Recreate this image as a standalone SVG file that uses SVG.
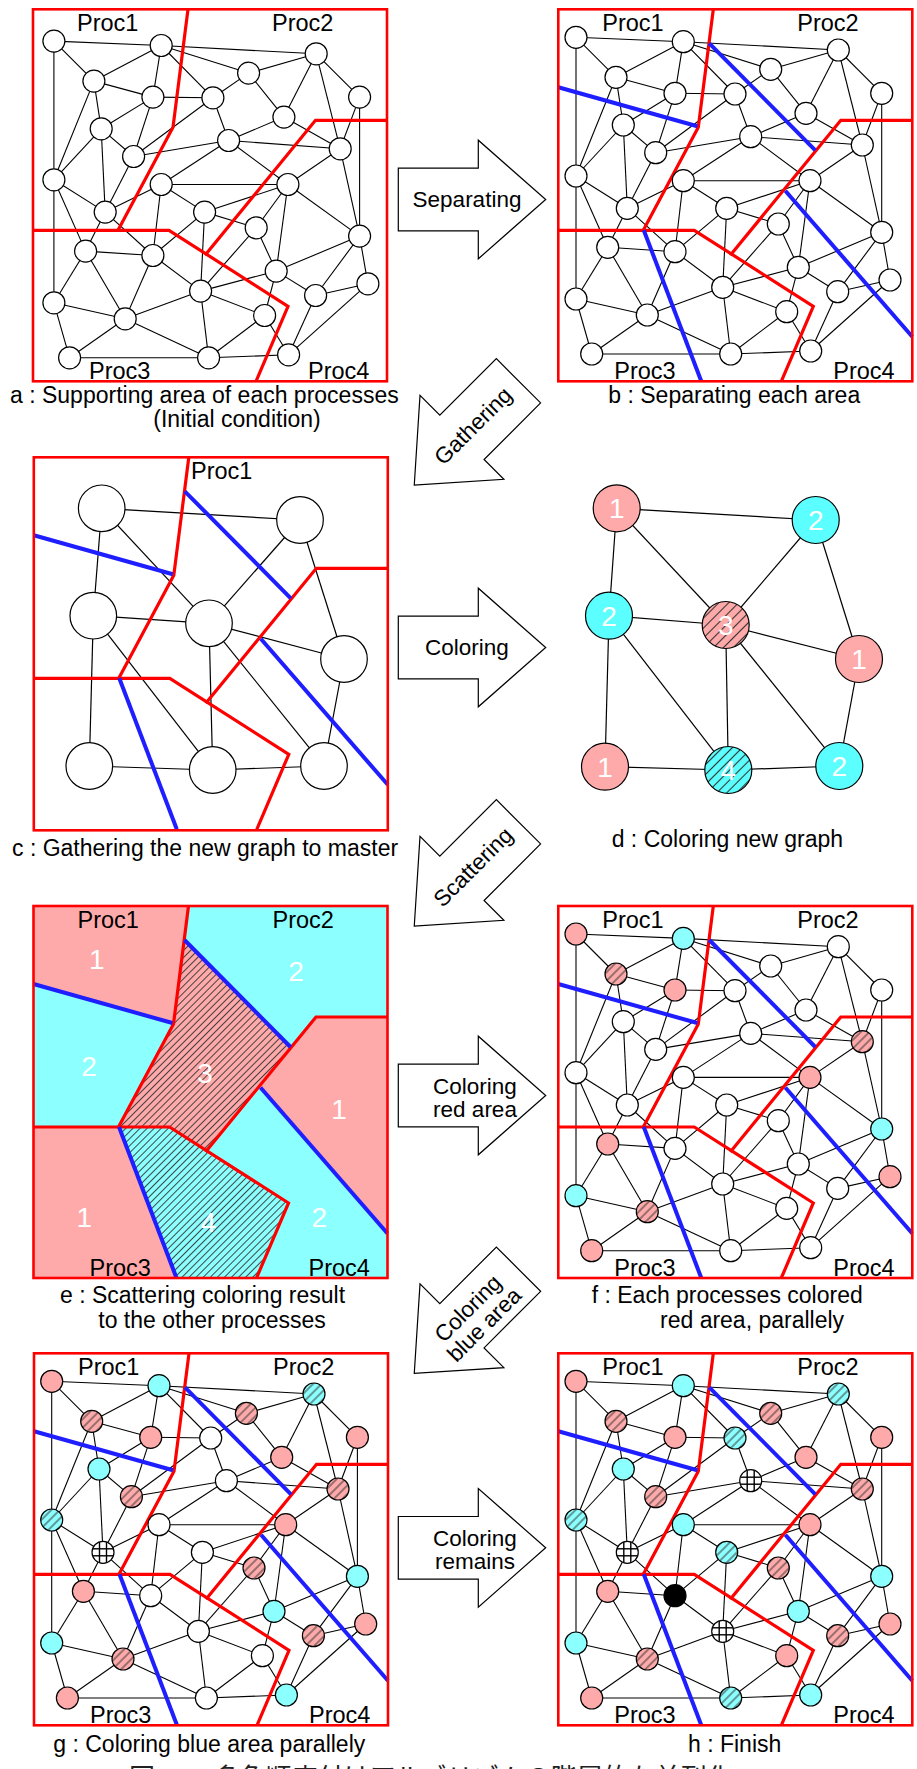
<svg xmlns="http://www.w3.org/2000/svg" xmlns:xlink="http://www.w3.org/1999/xlink" width="917" height="1769" viewBox="0 0 917 1769">
<style>
.fr{fill:none;stroke:#f00;stroke-width:2.6}
.rl{fill:none;stroke:#f00;stroke-width:3.2;stroke-linejoin:miter}
.bl{fill:none;stroke:#1e1eff;stroke-width:4}
circle{stroke:#000;stroke-width:1.2}
.w{fill:#fff}.p{fill:#ffaaaa}.c{fill:#8cffff}.hp{fill:url(#hp)}.hc{fill:url(#hc)}.k{fill:#000}
.dp{fill:#ffaaaa}.dc{fill:#5cffff}.dhp{fill:url(#dhp)}.dhc{fill:url(#dhc)}
text{font-family:"Liberation Sans",Arial,sans-serif;fill:#000}
.lb{font-size:23.5px}
.cap{font-size:23px}
.num{font-size:28px;fill:#fff;text-anchor:middle}
.arr{fill:#fff;stroke:#000;stroke-width:1.2}
.at{font-size:22.5px;text-anchor:middle}
</style>
<defs>
<pattern id="hp" patternUnits="userSpaceOnUse" width="6" height="6" patternTransform="rotate(45)"><rect width="6" height="6" fill="#ffaaaa"/><line x1="3" y1="0" x2="3" y2="6" stroke="#333" stroke-width="1"/></pattern>
<pattern id="hc" patternUnits="userSpaceOnUse" width="6" height="6" patternTransform="rotate(45)"><rect width="6" height="6" fill="#8cffff"/><line x1="3" y1="0" x2="3" y2="6" stroke="#333" stroke-width="1"/></pattern>
<pattern id="dhp" patternUnits="userSpaceOnUse" width="7" height="7" patternTransform="rotate(45)"><rect width="7" height="7" fill="#ffaaaa"/><line x1="3.5" y1="0" x2="3.5" y2="7" stroke="#333" stroke-width="1.1"/></pattern>
<pattern id="dhc" patternUnits="userSpaceOnUse" width="7" height="7" patternTransform="rotate(45)"><rect width="7" height="7" fill="#5cffff"/><line x1="3.5" y1="0" x2="3.5" y2="7" stroke="#333" stroke-width="1.1"/></pattern>
<pattern id="ehp" patternUnits="userSpaceOnUse" width="5" height="5" patternTransform="rotate(45)"><rect width="5" height="5" fill="#ffaaaa"/><line x1="2.5" y1="0" x2="2.5" y2="5" stroke="#333" stroke-width="0.9"/></pattern>
<pattern id="ehc" patternUnits="userSpaceOnUse" width="5" height="5" patternTransform="rotate(45)"><rect width="5" height="5" fill="#8cffff"/><line x1="2.5" y1="0" x2="2.5" y2="5" stroke="#333" stroke-width="0.9"/></pattern>
<path id="ar" d="M0,-31.3H80V-59.3L147.4,0L80,59.3V31.3H0Z"/>
<g id="gm" stroke="#000" stroke-width="1.4">
<line x1="-3.5" y1="-10.2" x2="-3.5" y2="10.2"/><line x1="3.5" y1="-10.2" x2="3.5" y2="10.2"/>
<line x1="-10.2" y1="-3.5" x2="10.2" y2="-3.5"/><line x1="-10.2" y1="3.5" x2="10.2" y2="3.5"/>
</g>
<g id="E" stroke="#000" stroke-width="1.1">
<line x1="17.7" y1="28" x2="125" y2="32.4"/>
<line x1="17.7" y1="28" x2="57.7" y2="68"/>
<line x1="17.7" y1="28" x2="17.7" y2="166.7"/>
<line x1="125" y1="32.4" x2="280" y2="40.7"/>
<line x1="125" y1="32.4" x2="57.7" y2="68"/>
<line x1="125" y1="32.4" x2="212.4" y2="60"/>
<line x1="125" y1="32.4" x2="116.7" y2="84"/>
<line x1="125" y1="32.4" x2="176.7" y2="84.7"/>
<line x1="280" y1="40.7" x2="212.4" y2="60"/>
<line x1="280" y1="40.7" x2="323.4" y2="84"/>
<line x1="280" y1="40.7" x2="247.7" y2="104"/>
<line x1="280" y1="40.7" x2="304" y2="135.7"/>
<line x1="57.7" y1="68" x2="116.7" y2="84"/>
<line x1="57.7" y1="68" x2="65" y2="115.7"/>
<line x1="57.7" y1="68" x2="17.7" y2="166.7"/>
<line x1="212.4" y1="60" x2="176.7" y2="84.7"/>
<line x1="212.4" y1="60" x2="247.7" y2="104"/>
<line x1="116.7" y1="84" x2="176.7" y2="84.7"/>
<line x1="116.7" y1="84" x2="65" y2="115.7"/>
<line x1="116.7" y1="84" x2="97.4" y2="143.4"/>
<line x1="176.7" y1="84.7" x2="192.4" y2="127.4"/>
<line x1="176.7" y1="84.7" x2="97.4" y2="143.4"/>
<line x1="323.4" y1="84" x2="304" y2="135.7"/>
<line x1="323.4" y1="84" x2="323.4" y2="223"/>
<line x1="65" y1="115.7" x2="97.4" y2="143.4"/>
<line x1="65" y1="115.7" x2="17.7" y2="166.7"/>
<line x1="65" y1="115.7" x2="69" y2="199"/>
<line x1="247.7" y1="104" x2="192.4" y2="127.4"/>
<line x1="247.7" y1="104" x2="304" y2="135.7"/>
<line x1="192.4" y1="127.4" x2="304" y2="135.7"/>
<line x1="192.4" y1="127.4" x2="97.4" y2="143.4"/>
<line x1="192.4" y1="127.4" x2="125" y2="171.4"/>
<line x1="192.4" y1="127.4" x2="251.7" y2="171.4"/>
<line x1="304" y1="135.7" x2="251.7" y2="171.4"/>
<line x1="304" y1="135.7" x2="323.4" y2="223"/>
<line x1="97.4" y1="143.4" x2="69" y2="199"/>
<line x1="17.7" y1="166.7" x2="69" y2="199"/>
<line x1="17.7" y1="166.7" x2="49.4" y2="238"/>
<line x1="17.7" y1="166.7" x2="17.7" y2="289.7"/>
<line x1="125" y1="171.4" x2="251.7" y2="171.4"/>
<line x1="125" y1="171.4" x2="69" y2="199"/>
<line x1="125" y1="171.4" x2="168.4" y2="199"/>
<line x1="125" y1="171.4" x2="116.7" y2="242.4"/>
<line x1="251.7" y1="171.4" x2="168.4" y2="199"/>
<line x1="251.7" y1="171.4" x2="220" y2="214.7"/>
<line x1="251.7" y1="171.4" x2="323.4" y2="223"/>
<line x1="251.7" y1="171.4" x2="240" y2="258"/>
<line x1="69" y1="199" x2="49.4" y2="238"/>
<line x1="69" y1="199" x2="116.7" y2="242.4"/>
<line x1="168.4" y1="199" x2="220" y2="214.7"/>
<line x1="168.4" y1="199" x2="116.7" y2="242.4"/>
<line x1="168.4" y1="199" x2="164.4" y2="278"/>
<line x1="220" y1="214.7" x2="240" y2="258"/>
<line x1="220" y1="214.7" x2="164.4" y2="278"/>
<line x1="323.4" y1="223" x2="240" y2="258"/>
<line x1="323.4" y1="223" x2="331.7" y2="270.7"/>
<line x1="323.4" y1="223" x2="279.4" y2="282.4"/>
<line x1="49.4" y1="238" x2="116.7" y2="242.4"/>
<line x1="49.4" y1="238" x2="17.7" y2="289.7"/>
<line x1="49.4" y1="238" x2="89" y2="305.7"/>
<line x1="116.7" y1="242.4" x2="164.4" y2="278"/>
<line x1="116.7" y1="242.4" x2="89" y2="305.7"/>
<line x1="240" y1="258" x2="164.4" y2="278"/>
<line x1="240" y1="258" x2="279.4" y2="282.4"/>
<line x1="240" y1="258" x2="228.4" y2="302.4"/>
<line x1="164.4" y1="278" x2="89" y2="305.7"/>
<line x1="164.4" y1="278" x2="228.4" y2="302.4"/>
<line x1="164.4" y1="278" x2="172.4" y2="344.7"/>
<line x1="331.7" y1="270.7" x2="279.4" y2="282.4"/>
<line x1="331.7" y1="270.7" x2="252.4" y2="341.7"/>
<line x1="279.4" y1="282.4" x2="252.4" y2="341.7"/>
<line x1="17.7" y1="289.7" x2="89" y2="305.7"/>
<line x1="17.7" y1="289.7" x2="33.4" y2="344.7"/>
<line x1="89" y1="305.7" x2="33.4" y2="344.7"/>
<line x1="89" y1="305.7" x2="172.4" y2="344.7"/>
<line x1="228.4" y1="302.4" x2="172.4" y2="344.7"/>
<line x1="228.4" y1="302.4" x2="252.4" y2="341.7"/>
<line x1="33.4" y1="344.7" x2="172.4" y2="344.7"/>
<line x1="172.4" y1="344.7" x2="252.4" y2="341.7"/>
</g>
<g id="RL">
<polyline class="rl" points="155,0 140,118 85,221"/>
<polyline class="rl" points="0,221 136,221 255,297 223,372"/>
<polyline class="rl" points="354,111 282.5,111 172,246"/>
</g>
<g id="BL">
<line class="bl" x1="0" y1="78" x2="139" y2="117"/>
<line class="bl" x1="151" y1="34" x2="257" y2="141"/>
<line class="bl" x1="227" y1="181.5" x2="354" y2="327.5"/>
<line class="bl" x1="85.5" y1="221" x2="143" y2="372"/>
</g>
<g id="LB">
<text x="44" y="21.5" class="lb">Proc1</text>
<text x="239" y="21.5" class="lb">Proc2</text>
<text x="56" y="370" class="lb">Proc3</text>
<text x="275" y="370" class="lb">Proc4</text>
</g>
</defs>
<rect width="917" height="1769" fill="#fff"/>

<!-- Panel a -->
<g id="panel-a" transform="translate(33,9.3)">
<g id="a-connectors" transform="translate(3.2,3.8)"><use href="#E"/></g>
<use href="#RL"/>
<g id="a-nodes" transform="translate(3.2,3.8)">
<g id="a1"><circle cx="17.7" cy="28" r="11" class="w"/></g>
<g id="a2"><circle cx="125" cy="32.4" r="11" class="w"/></g>
<g id="a3"><circle cx="280" cy="40.7" r="11" class="w"/></g>
<g id="a4"><circle cx="57.7" cy="68" r="11" class="w"/></g>
<g id="a5"><circle cx="212.4" cy="60" r="11" class="w"/></g>
<g id="a6"><circle cx="116.7" cy="84" r="11" class="w"/></g>
<g id="a7"><circle cx="176.7" cy="84.7" r="11" class="w"/></g>
<g id="a8"><circle cx="323.4" cy="84" r="11" class="w"/></g>
<g id="a9"><circle cx="65" cy="115.7" r="11" class="w"/></g>
<g id="a10"><circle cx="247.7" cy="104" r="11" class="w"/></g>
<g id="a11"><circle cx="192.4" cy="127.4" r="11" class="w"/></g>
<g id="a12"><circle cx="304" cy="135.7" r="11" class="w"/></g>
<g id="a13"><circle cx="97.4" cy="143.4" r="11" class="w"/></g>
<g id="a14"><circle cx="17.7" cy="166.7" r="11" class="w"/></g>
<g id="a15"><circle cx="125" cy="171.4" r="11" class="w"/></g>
<g id="a16"><circle cx="251.7" cy="171.4" r="11" class="w"/></g>
<g id="a17"><circle cx="69" cy="199" r="11" class="w"/></g>
<g id="a18"><circle cx="168.4" cy="199" r="11" class="w"/></g>
<g id="a19"><circle cx="220" cy="214.7" r="11" class="w"/></g>
<g id="a20"><circle cx="323.4" cy="223" r="11" class="w"/></g>
<g id="a21"><circle cx="49.4" cy="238" r="11" class="w"/></g>
<g id="a22"><circle cx="116.7" cy="242.4" r="11" class="w"/></g>
<g id="a23"><circle cx="240" cy="258" r="11" class="w"/></g>
<g id="a24"><circle cx="164.4" cy="278" r="11" class="w"/></g>
<g id="a25"><circle cx="331.7" cy="270.7" r="11" class="w"/></g>
<g id="a26"><circle cx="279.4" cy="282.4" r="11" class="w"/></g>
<g id="a27"><circle cx="17.7" cy="289.7" r="11" class="w"/></g>
<g id="a28"><circle cx="89" cy="305.7" r="11" class="w"/></g>
<g id="a29"><circle cx="228.4" cy="302.4" r="11" class="w"/></g>
<g id="a30"><circle cx="33.4" cy="344.7" r="11" class="w"/></g>
<g id="a31"><circle cx="172.4" cy="344.7" r="11" class="w"/></g>
<g id="a32"><circle cx="252.4" cy="341.7" r="11" class="w"/></g>
</g>
<rect class="fr" width="354" height="372"/>
<use href="#LB"/>
</g>
<text class="cap" x="10" y="403.3">a : Supporting area of each processes</text>
<text class="cap" x="153.3" y="426.7">(Initial condition)</text>

<!-- Panel b -->
<g id="panel-b" transform="translate(558.3,9.3)">
<g id="b-connectors"><use href="#E"/></g>
<use href="#RL"/><use href="#BL"/>
<g id="b-nodes">
<g id="b1"><circle cx="17.7" cy="28" r="11" class="w"/></g>
<g id="b2"><circle cx="125" cy="32.4" r="11" class="w"/></g>
<g id="b3"><circle cx="280" cy="40.7" r="11" class="w"/></g>
<g id="b4"><circle cx="57.7" cy="68" r="11" class="w"/></g>
<g id="b5"><circle cx="212.4" cy="60" r="11" class="w"/></g>
<g id="b6"><circle cx="116.7" cy="84" r="11" class="w"/></g>
<g id="b7"><circle cx="176.7" cy="84.7" r="11" class="w"/></g>
<g id="b8"><circle cx="323.4" cy="84" r="11" class="w"/></g>
<g id="b9"><circle cx="65" cy="115.7" r="11" class="w"/></g>
<g id="b10"><circle cx="247.7" cy="104" r="11" class="w"/></g>
<g id="b11"><circle cx="192.4" cy="127.4" r="11" class="w"/></g>
<g id="b12"><circle cx="304" cy="135.7" r="11" class="w"/></g>
<g id="b13"><circle cx="97.4" cy="143.4" r="11" class="w"/></g>
<g id="b14"><circle cx="17.7" cy="166.7" r="11" class="w"/></g>
<g id="b15"><circle cx="125" cy="171.4" r="11" class="w"/></g>
<g id="b16"><circle cx="251.7" cy="171.4" r="11" class="w"/></g>
<g id="b17"><circle cx="69" cy="199" r="11" class="w"/></g>
<g id="b18"><circle cx="168.4" cy="199" r="11" class="w"/></g>
<g id="b19"><circle cx="220" cy="214.7" r="11" class="w"/></g>
<g id="b20"><circle cx="323.4" cy="223" r="11" class="w"/></g>
<g id="b21"><circle cx="49.4" cy="238" r="11" class="w"/></g>
<g id="b22"><circle cx="116.7" cy="242.4" r="11" class="w"/></g>
<g id="b23"><circle cx="240" cy="258" r="11" class="w"/></g>
<g id="b24"><circle cx="164.4" cy="278" r="11" class="w"/></g>
<g id="b25"><circle cx="331.7" cy="270.7" r="11" class="w"/></g>
<g id="b26"><circle cx="279.4" cy="282.4" r="11" class="w"/></g>
<g id="b27"><circle cx="17.7" cy="289.7" r="11" class="w"/></g>
<g id="b28"><circle cx="89" cy="305.7" r="11" class="w"/></g>
<g id="b29"><circle cx="228.4" cy="302.4" r="11" class="w"/></g>
<g id="b30"><circle cx="33.4" cy="344.7" r="11" class="w"/></g>
<g id="b31"><circle cx="172.4" cy="344.7" r="11" class="w"/></g>
<g id="b32"><circle cx="252.4" cy="341.7" r="11" class="w"/></g>
</g>
<rect class="fr" width="354" height="372"/>
<use href="#LB"/>
</g>
<text class="cap" x="608.3" y="403.3">b : Separating each area</text>

<!-- Panel c -->
<g id="panel-c">
<g id="c-connectors" stroke="#000" stroke-width="1.2">
<line x1="101.7" y1="508.3" x2="300" y2="520"/>
<line x1="101.7" y1="508.3" x2="93.3" y2="615.7"/>
<line x1="101.7" y1="508.3" x2="209" y2="623.3"/>
<line x1="300" y1="520" x2="209" y2="623.3"/>
<line x1="300" y1="520" x2="344" y2="659"/>
<line x1="93.3" y1="615.7" x2="209" y2="623.3"/>
<line x1="93.3" y1="615.7" x2="89.3" y2="766"/>
<line x1="93.3" y1="615.7" x2="212.7" y2="770"/>
<line x1="209" y1="623.3" x2="344" y2="659"/>
<line x1="209" y1="623.3" x2="212.7" y2="770"/>
<line x1="209" y1="623.3" x2="324" y2="766"/>
<line x1="344" y1="659" x2="324" y2="766"/>
<line x1="89.3" y1="766" x2="212.7" y2="770"/>
<line x1="212.7" y1="770" x2="324" y2="766"/>
</g>
<g transform="translate(33.8,457.3)"><use href="#RL"/><use href="#BL"/><rect class="fr" width="354" height="373"/></g>
<g id="c-nodes">
<g id="c1"><circle cx="101.7" cy="508.3" r="23.3" class="w"/></g>
<g id="c2"><circle cx="300" cy="520" r="23.3" class="w"/></g>
<g id="c3"><circle cx="93.3" cy="615.7" r="23.3" class="w"/></g>
<g id="c4"><circle cx="209" cy="623.3" r="23.3" class="w"/></g>
<g id="c5"><circle cx="344" cy="659" r="23.3" class="w"/></g>
<g id="c6"><circle cx="89.3" cy="766" r="23.3" class="w"/></g>
<g id="c7"><circle cx="212.7" cy="770" r="23.3" class="w"/></g>
<g id="c8"><circle cx="324" cy="766" r="23.3" class="w"/></g>
</g>
<text class="lb" x="191" y="479">Proc1</text>
</g>
<text class="cap" x="12" y="855.5">c : Gathering the new graph to master</text>

<!-- Panel d -->
<g id="panel-d">
<g id="d-connectors" stroke="#000" stroke-width="1.2">
<line x1="616.7" y1="508.3" x2="815.7" y2="520"/>
<line x1="616.7" y1="508.3" x2="609" y2="615.7"/>
<line x1="616.7" y1="508.3" x2="725.7" y2="625"/>
<line x1="815.7" y1="520" x2="725.7" y2="625"/>
<line x1="815.7" y1="520" x2="859" y2="659"/>
<line x1="609" y1="615.7" x2="725.7" y2="625"/>
<line x1="609" y1="615.7" x2="605" y2="766.7"/>
<line x1="609" y1="615.7" x2="728.3" y2="770"/>
<line x1="725.7" y1="625" x2="859" y2="659"/>
<line x1="725.7" y1="625" x2="728.3" y2="770"/>
<line x1="725.7" y1="625" x2="839.3" y2="766"/>
<line x1="859" y1="659" x2="839.3" y2="766"/>
<line x1="605" y1="766.7" x2="728.3" y2="770"/>
<line x1="728.3" y1="770" x2="839.3" y2="766"/>
</g>
<g id="d1"><circle cx="616.7" cy="508.3" r="23.5" class="dp"/><text class="num" x="616.7" y="518.3">1</text></g>
<g id="d2"><circle cx="815.7" cy="520" r="23.5" class="dc"/><text class="num" x="815.7" y="530">2</text></g>
<g id="d3"><circle cx="609" cy="615.7" r="23.5" class="dc"/><text class="num" x="609" y="625.7">2</text></g>
<g id="d4"><circle cx="725.7" cy="625" r="23.5" class="dhp"/><text class="num" x="725.7" y="635">3</text></g>
<g id="d5"><circle cx="859" cy="659" r="23.5" class="dp"/><text class="num" x="859" y="669">1</text></g>
<g id="d6"><circle cx="605" cy="766.7" r="23.5" class="dp"/><text class="num" x="605" y="776.7">1</text></g>
<g id="d7"><circle cx="728.3" cy="770" r="23.5" class="dhc"/><text class="num" x="728.3" y="780">4</text></g>
<g id="d8"><circle cx="839.3" cy="766" r="23.5" class="dc"/><text class="num" x="839.3" y="776">2</text></g>
</g>
<text class="cap" x="611.7" y="847.3">d : Coloring new graph</text>

<!-- Panel e -->
<g id="panel-e" transform="translate(33.5,906)">
<polygon fill="#ffaaaa" points="0,0 155,0 140,118 0,78"/>
<polygon fill="#8cffff" points="0,78 140,118 85,221 0,221"/>
<polygon fill="url(#ehp)" points="150.7,34 140,118 85,221 136,221 172,246 257,141"/>
<polygon fill="#8cffff" points="155,0 354,0 354,111 282.5,111 257,141 150.7,34"/>
<polygon fill="#ffaaaa" points="282.5,111 354,111 354,327.5 227,181.5"/>
<polygon fill="#8cffff" points="227,181.5 354,327.5 354,372 223,372 255,297 172,246"/>
<polygon fill="url(#ehc)" points="85,221 136,221 172,246 255,297 223,372 143,372"/>
<polygon fill="#ffaaaa" points="0,221 85,221 143,372 0,372"/>
<use href="#RL"/><use href="#BL"/>
<rect class="fr" width="354" height="372"/>
<use href="#LB"/>
<text class="num" x="63.2" y="63.3">1</text>
<text class="num" x="262.5" y="74.7">2</text>
<text class="num" x="55.5" y="170">2</text>
<text class="num" x="171.5" y="177.3">3</text>
<text class="num" x="305.5" y="213.3">1</text>
<text class="num" x="50.8" y="320.7">1</text>
<text class="num" x="174.8" y="325.7">4</text>
<text class="num" x="285.8" y="320.7">2</text>
</g>
<text class="cap" x="60" y="1303.3">e : Scattering coloring result</text>
<text class="cap" x="98.3" y="1328.3">to the other processes</text>

<!-- Panel f -->
<g id="panel-f" transform="translate(558.3,906)">
<g id="f-connectors"><use href="#E"/></g>
<use href="#RL"/><use href="#BL"/>
<g id="f-nodes">
<g id="f1"><circle cx="17.7" cy="28" r="11" class="p"/></g>
<g id="f2"><circle cx="125" cy="32.4" r="11" class="c"/></g>
<g id="f3"><circle cx="280" cy="40.7" r="11" class="w"/></g>
<g id="f4"><circle cx="57.7" cy="68" r="11" class="hp"/></g>
<g id="f5"><circle cx="212.4" cy="60" r="11" class="w"/></g>
<g id="f6"><circle cx="116.7" cy="84" r="11" class="p"/></g>
<g id="f7"><circle cx="176.7" cy="84.7" r="11" class="w"/></g>
<g id="f8"><circle cx="323.4" cy="84" r="11" class="w"/></g>
<g id="f9"><circle cx="65" cy="115.7" r="11" class="w"/></g>
<g id="f10"><circle cx="247.7" cy="104" r="11" class="w"/></g>
<g id="f11"><circle cx="192.4" cy="127.4" r="11" class="w"/></g>
<g id="f12"><circle cx="304" cy="135.7" r="11" class="hp"/></g>
<g id="f13"><circle cx="97.4" cy="143.4" r="11" class="w"/></g>
<g id="f14"><circle cx="17.7" cy="166.7" r="11" class="w"/></g>
<g id="f15"><circle cx="125" cy="171.4" r="11" class="w"/></g>
<g id="f16"><circle cx="251.7" cy="171.4" r="11" class="p"/></g>
<g id="f17"><circle cx="69" cy="199" r="11" class="w"/></g>
<g id="f18"><circle cx="168.4" cy="199" r="11" class="w"/></g>
<g id="f19"><circle cx="220" cy="214.7" r="11" class="w"/></g>
<g id="f20"><circle cx="323.4" cy="223" r="11" class="c"/></g>
<g id="f21"><circle cx="49.4" cy="238" r="11" class="p"/></g>
<g id="f22"><circle cx="116.7" cy="242.4" r="11" class="w"/></g>
<g id="f23"><circle cx="240" cy="258" r="11" class="w"/></g>
<g id="f24"><circle cx="164.4" cy="278" r="11" class="w"/></g>
<g id="f25"><circle cx="331.7" cy="270.7" r="11" class="p"/></g>
<g id="f26"><circle cx="279.4" cy="282.4" r="11" class="w"/></g>
<g id="f27"><circle cx="17.7" cy="289.7" r="11" class="c"/></g>
<g id="f28"><circle cx="89" cy="305.7" r="11" class="hp"/></g>
<g id="f29"><circle cx="228.4" cy="302.4" r="11" class="w"/></g>
<g id="f30"><circle cx="33.4" cy="344.7" r="11" class="p"/></g>
<g id="f31"><circle cx="172.4" cy="344.7" r="11" class="w"/></g>
<g id="f32"><circle cx="252.4" cy="341.7" r="11" class="w"/></g>
</g>
<rect class="fr" width="354" height="372"/>
<use href="#LB"/>
</g>
<text class="cap" x="591.7" y="1303.3">f : Each processes colored</text>
<text class="cap" x="660" y="1328.3">red area, parallely</text>

<!-- Panel g -->
<g id="panel-g" transform="translate(34,1353.3)">
<g id="g-connectors"><use href="#E"/></g>
<use href="#RL"/><use href="#BL"/>
<g id="g-nodes">
<g id="g1"><circle cx="17.7" cy="28" r="11" class="p"/></g>
<g id="g2"><circle cx="125" cy="32.4" r="11" class="c"/></g>
<g id="g3"><circle cx="280" cy="40.7" r="11" class="hc"/></g>
<g id="g4"><circle cx="57.7" cy="68" r="11" class="hp"/></g>
<g id="g5"><circle cx="212.4" cy="60" r="11" class="hp"/></g>
<g id="g6"><circle cx="116.7" cy="84" r="11" class="p"/></g>
<g id="g7"><circle cx="176.7" cy="84.7" r="11" class="w"/></g>
<g id="g8"><circle cx="323.4" cy="84" r="11" class="p"/></g>
<g id="g9"><circle cx="65" cy="115.7" r="11" class="c"/></g>
<g id="g10"><circle cx="247.7" cy="104" r="11" class="p"/></g>
<g id="g11"><circle cx="192.4" cy="127.4" r="11" class="w"/></g>
<g id="g12"><circle cx="304" cy="135.7" r="11" class="hp"/></g>
<g id="g13"><circle cx="97.4" cy="143.4" r="11" class="hp"/></g>
<g id="g14"><circle cx="17.7" cy="166.7" r="11" class="hc"/></g>
<g id="g15"><circle cx="125" cy="171.4" r="11" class="w"/></g>
<g id="g16"><circle cx="251.7" cy="171.4" r="11" class="p"/></g>
<g id="g17"><circle cx="69" cy="199" r="11" class="w"/><use href="#gm" x="69" y="199"/></g>
<g id="g18"><circle cx="168.4" cy="199" r="11" class="w"/></g>
<g id="g19"><circle cx="220" cy="214.7" r="11" class="hp"/></g>
<g id="g20"><circle cx="323.4" cy="223" r="11" class="c"/></g>
<g id="g21"><circle cx="49.4" cy="238" r="11" class="p"/></g>
<g id="g22"><circle cx="116.7" cy="242.4" r="11" class="w"/></g>
<g id="g23"><circle cx="240" cy="258" r="11" class="c"/></g>
<g id="g24"><circle cx="164.4" cy="278" r="11" class="w"/></g>
<g id="g25"><circle cx="331.7" cy="270.7" r="11" class="p"/></g>
<g id="g26"><circle cx="279.4" cy="282.4" r="11" class="hp"/></g>
<g id="g27"><circle cx="17.7" cy="289.7" r="11" class="c"/></g>
<g id="g28"><circle cx="89" cy="305.7" r="11" class="hp"/></g>
<g id="g29"><circle cx="228.4" cy="302.4" r="11" class="w"/></g>
<g id="g30"><circle cx="33.4" cy="344.7" r="11" class="p"/></g>
<g id="g31"><circle cx="172.4" cy="344.7" r="11" class="w"/></g>
<g id="g32"><circle cx="252.4" cy="341.7" r="11" class="c"/></g>
</g>
<rect class="fr" width="354" height="372"/>
<use href="#LB"/>
</g>
<text class="cap" x="53.3" y="1751.7">g : Coloring blue area parallely</text>

<!-- Panel h -->
<g id="panel-h" transform="translate(558.3,1353.3)">
<g id="h-connectors"><use href="#E"/></g>
<use href="#RL"/><use href="#BL"/>
<g id="h-nodes">
<g id="h1"><circle cx="17.7" cy="28" r="11" class="p"/></g>
<g id="h2"><circle cx="125" cy="32.4" r="11" class="c"/></g>
<g id="h3"><circle cx="280" cy="40.7" r="11" class="hc"/></g>
<g id="h4"><circle cx="57.7" cy="68" r="11" class="hp"/></g>
<g id="h5"><circle cx="212.4" cy="60" r="11" class="hp"/></g>
<g id="h6"><circle cx="116.7" cy="84" r="11" class="p"/></g>
<g id="h7"><circle cx="176.7" cy="84.7" r="11" class="hc"/></g>
<g id="h8"><circle cx="323.4" cy="84" r="11" class="p"/></g>
<g id="h9"><circle cx="65" cy="115.7" r="11" class="c"/></g>
<g id="h10"><circle cx="247.7" cy="104" r="11" class="p"/></g>
<g id="h11"><circle cx="192.4" cy="127.4" r="11" class="w"/><use href="#gm" x="192.4" y="127.4"/></g>
<g id="h12"><circle cx="304" cy="135.7" r="11" class="hp"/></g>
<g id="h13"><circle cx="97.4" cy="143.4" r="11" class="hp"/></g>
<g id="h14"><circle cx="17.7" cy="166.7" r="11" class="hc"/></g>
<g id="h15"><circle cx="125" cy="171.4" r="11" class="c"/></g>
<g id="h16"><circle cx="251.7" cy="171.4" r="11" class="p"/></g>
<g id="h17"><circle cx="69" cy="199" r="11" class="w"/><use href="#gm" x="69" y="199"/></g>
<g id="h18"><circle cx="168.4" cy="199" r="11" class="hc"/></g>
<g id="h19"><circle cx="220" cy="214.7" r="11" class="hp"/></g>
<g id="h20"><circle cx="323.4" cy="223" r="11" class="c"/></g>
<g id="h21"><circle cx="49.4" cy="238" r="11" class="p"/></g>
<g id="h22"><circle cx="116.7" cy="242.4" r="11" class="k"/></g>
<g id="h23"><circle cx="240" cy="258" r="11" class="c"/></g>
<g id="h24"><circle cx="164.4" cy="278" r="11" class="w"/><use href="#gm" x="164.4" y="278"/></g>
<g id="h25"><circle cx="331.7" cy="270.7" r="11" class="p"/></g>
<g id="h26"><circle cx="279.4" cy="282.4" r="11" class="hp"/></g>
<g id="h27"><circle cx="17.7" cy="289.7" r="11" class="c"/></g>
<g id="h28"><circle cx="89" cy="305.7" r="11" class="hp"/></g>
<g id="h29"><circle cx="228.4" cy="302.4" r="11" class="p"/></g>
<g id="h30"><circle cx="33.4" cy="344.7" r="11" class="p"/></g>
<g id="h31"><circle cx="172.4" cy="344.7" r="11" class="hc"/></g>
<g id="h32"><circle cx="252.4" cy="341.7" r="11" class="c"/></g>
</g>
<rect class="fr" width="354" height="372"/>
<use href="#LB"/>
</g>
<text class="cap" x="688" y="1751.7">h : Finish</text>

<!-- Arrows -->
<g id="arrow-separating"><use href="#ar" class="arr" transform="translate(398.3,199.5)"/><text class="at" x="467" y="206.5">Separating</text></g>
<g id="arrow-gathering"><use href="#ar" class="arr" transform="translate(518.5,380.8) rotate(135)"/><text class="at" transform="translate(473.2,426.1) rotate(-45)" x="0" y="7.5">Gathering</text></g>
<g id="arrow-coloring"><use href="#ar" class="arr" transform="translate(398.3,647.5)"/><text class="at" x="467" y="654.5">Coloring</text></g>
<g id="arrow-scattering"><use href="#ar" class="arr" transform="translate(518.5,821.8) rotate(135)"/><text class="at" transform="translate(473.2,867.1) rotate(-45)" x="0" y="7.5">Scattering</text></g>
<g id="arrow-coloring-red"><use href="#ar" class="arr" transform="translate(398.3,1095.5)"/><text class="at" x="475" y="1094">Coloring</text><text class="at" x="475" y="1117">red area</text></g>
<g id="arrow-coloring-blue"><use href="#ar" class="arr" transform="translate(518.5,1269.2) rotate(135)"/><g transform="translate(474,1314.5) rotate(-45)"><text class="at" x="0" y="-1">Coloring</text><text class="at" x="0" y="22">blue area</text></g></g>
<g id="arrow-coloring-remains"><use href="#ar" class="arr" transform="translate(398.3,1547.8)"/><text class="at" x="475" y="1546.3">Coloring</text><text class="at" x="475" y="1569.3">remains</text></g>

<text x="129" y="1787" style="font-family:'Liberation Serif','Noto Sans CJK JP',serif;font-size:26px;fill:#222">図 10　多色順序付けアルゴリズムの階層的な並列化</text>
</svg>
